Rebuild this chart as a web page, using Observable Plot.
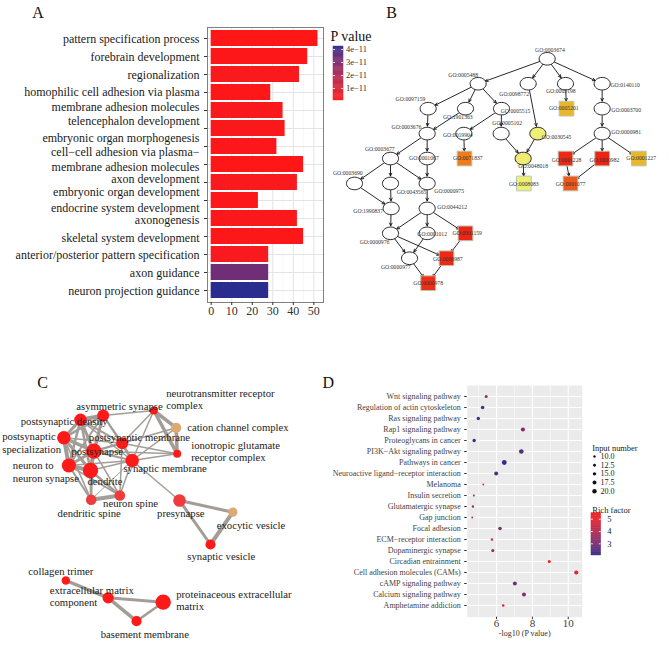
<!DOCTYPE html>
<html><head><meta charset="utf-8">
<script src="https://cdn.jsdelivr.net/npm/d3@7"></script>
<script src="https://cdn.jsdelivr.net/npm/@observablehq/plot@0.6"></script>
<style>
body{margin:0;background:#fff;}
#fig{position:relative;width:669px;height:652px;overflow:hidden;background:#fff;font-family:"Liberation Serif","Times New Roman",serif;}
#fig svg, #fig svg text{font-family:"Liberation Serif","Times New Roman",serif !important;}
.panel{position:absolute;}
.letter{position:absolute;font-size:16px;line-height:1;color:#111;transform:translate(-50%,-50%);}
</style></head><body><div id="fig"></div>
<script>
// ---------------- DATA ----------------
// Panel A: GO biological process enrichment
const aTerms = ["pattern specification process","forebrain development","regionalization",
  "homophilic cell adhesion via plasma\nmembrane adhesion molecules","telencephalon development",
  "embryonic organ morphogenesis","cell\u2212cell adhesion via plasma\u2212\nmembrane adhesion molecules",
  "axon development","embryonic organ development","endocrine system development","axonogenesis",
  "skeletal system development","anterior/posterior pattern specification","axon guidance","neuron projection guidance"];
const aCounts = [52,47,43,29,35,36,32,45,42,23,42,45,28,28,28];
const aPvalues = [8.1e-13,1.1e-12,1.9e-12,1.3e-12,2.2e-12,1.7e-12,1.5e-12,9.2e-13,2.0e-12,1.6e-12,1.8e-12,1.2e-12,2.4e-12,3.3e-11,4.23e-11];
const aTicks = [0,10,20,30,40,50];
const aMinorTicks = [5,15,25,35,45];
const aLegendTicks = [1e-11,2e-11,3e-11,4e-11];

// Panel B: GO DAG (layout x, level)
const bIds = ["GO:0003674","GO:0005488","GO:0098772","GO:0005198","GO:0140110","GO:0097159","GO:1901363","GO:0005515","GO:0005201","GO:0003700",
  "GO:0003676","GO:0019904","GO:0005102","GO:0030545","GO:0000981","GO:0003677","GO:0001067","GO:0071837","GO:0048018","GO:0001228",
  "GO:0000982","GO:0001227","GO:0003690","GO:0043565","GO:0000975","GO:0008083","GO:0001077","GO:1990837","GO:0044212","GO:0000976",
  "GO:0001012","GO:0001159","GO:0000977","GO:0000987","GO:0000978"];
const bX = [650,443,593,705,815,293,405,513,708,815,290,400,512,622,815,180,290,402,578,705,815,925,72,180,290,580,720,182,290,180,290,405,237,348,293];
const bLevel = [0,1,1,1,1,2,2,2,2,2,3,3,3,3,3,4,4,4,4,4,4,4,5,5,5,5,5,6,6,7,7,7,8,8,9];
const bSig = [0,0,0,0,0,0,0,0,1,0,0,0,0,0,0,0,0,1,0,1,1,1,0,0,0,1,1,0,0,0,0,1,0,1,1];
const bScore = [null,null,null,null,null,null,null,null,0.35,null,null,null,null,0,null,null,null,0.6,0.02,0.95,
  0.97,0.35,null,null,null,0,0.75,null,null,null,null,0.96,null,0.94,0.92];
const bEdges = [["GO:0003674","GO:0005488"],["GO:0003674","GO:0098772"],["GO:0003674","GO:0005198"],["GO:0003674","GO:0140110"],
  ["GO:0005488","GO:0097159"],["GO:0005488","GO:1901363"],["GO:0005488","GO:0005515"],
  ["GO:0098772","GO:0030545"],["GO:0005198","GO:0005201"],["GO:0140110","GO:0003700"],
  ["GO:0097159","GO:0003676"],["GO:1901363","GO:0003676"],["GO:0005515","GO:0019904"],["GO:0005515","GO:0005102"],
  ["GO:0003700","GO:0000981"],["GO:0003676","GO:0003677"],["GO:0003676","GO:0001067"],["GO:0019904","GO:0071837"],
  ["GO:0005102","GO:0048018"],["GO:0030545","GO:0048018"],["GO:0000981","GO:0001228"],["GO:0000981","GO:0000982"],["GO:0000981","GO:0001227"],
  ["GO:0003677","GO:0003690"],["GO:0003677","GO:0043565"],["GO:0003677","GO:0000975"],["GO:0001067","GO:0000975"],
  ["GO:0048018","GO:0008083"],["GO:0001228","GO:0001077"],["GO:0000982","GO:0001077"],
  ["GO:0003690","GO:1990837"],["GO:0043565","GO:1990837"],["GO:0000975","GO:0044212"],
  ["GO:1990837","GO:0000976"],["GO:0044212","GO:0000976"],["GO:0044212","GO:0001012"],["GO:0044212","GO:0001159"],
  ["GO:0000976","GO:0000977"],["GO:0000976","GO:0000987"],["GO:0001012","GO:0000977"],["GO:0001159","GO:0000987"],
  ["GO:0000977","GO:0000978"],["GO:0000987","GO:0000978"]];

// Panel C: cellular component network (layout x, y)
const cIds = ["AS","PSD","PSS","PS","PSM","SM","NNS","D","DS","NS","NRC","CCC","IGRC","PRE","EV","SV","CT","ECM","PEM","BM"];
const cNames = ["asymmetric synapse","postsynaptic density","postsynaptic\nspecialization","postsynapse","postsynaptic membrane",
  "synaptic membrane","neuron to\nneuron synapse","dendrite","dendritic spine","neuron spine","neurotransmitter receptor\ncomplex",
  "cation channel complex","ionotropic glutamate\nreceptor complex","presynapse","exocytic vesicle","synaptic vesicle",
  "collagen trimer","extracellular matrix\ncomponent","proteinaceous extracellular\nmatrix","basement membrane"];
const cX = [308,240,190,280,365,395,205,270,272,358,460,527,530,537,697,630,196,323,488,408];
const cY = [255,268,322,362,338,390,405,420,508,495,240,292,370,510,545,642,750,802,815,872];
const cGenes = [18,20,23,30,18,23,25,30,14,14,8,13,8,20,11,13,9,16,30,13];
const cLevel = ["high","high","high","high","high","high","high","high","mid","mid","high","low","high","mid","low","high","high","high","high","high"];
const cEdges = [["PSD","AS",4],["PSD","PSS",3],["PSD","PS",3],["PSD","NNS",2.5],["PSD","D",2.5],["PSD","PSM",2],["PSD","SM",1.5],
  ["AS","PSS",2.5],["AS","PS",3],["AS","NNS",2],["AS","D",2],["AS","PSM",2],["AS","SM",1.5],
  ["PSS","PS",3.5],["PSS","NNS",4],["PSS","D",3],["PSS","PSM",1.5],["PSS","DS",1.5],
  ["PS","NNS",3],["PS","D",4],["PS","PSM",2.5],["PS","SM",2],["PS","DS",1.5],["PS","NS",1.5],
  ["NNS","D",4],["NNS","DS",2],["NNS","NS",1.5],["NNS","SM",1.5],
  ["D","DS",2.5],["D","NS",2.5],["D","SM",1.5],["DS","NS",4],
  ["PSM","SM",2.5],["PSM","NS",1.5],["SM","NS",1.5],["SM","DS",1],
  ["NRC","AS",1.5],["NRC","PSM",1.5],["NRC","SM",1.5],["NRC","CCC",3.5],["NRC","IGRC",3.5],["CCC","IGRC",3.5],
  ["CCC","PSM",1.5],["CCC","SM",1.5],["IGRC","PSM",1.5],["IGRC","SM",1.5],["IGRC","PS",1.5],
  ["SM","PRE",1.5],["PRE","EV",3],["PRE","SV",3],["EV","SV",4],
  ["CT","ECM",3.5],["ECM","PEM",3],["ECM","BM",3.5],["PEM","BM",2.5]];

// Panel D: KEGG pathway bubble chart
const dTerms = ["Wnt signaling pathway","Regulation of actin cytoskeleton","Ras signaling pathway","Rap1 signaling pathway",
  "Proteoglycans in cancer","PI3K\u2212Akt signaling pathway","Pathways in cancer","Neuroactive ligand\u2212receptor interaction",
  "Melanoma","Insulin secretion","Glutamatergic synapse","Gap junction","Focal adhesion","ECM\u2212receptor interaction",
  "Dopaminergic synapse","Circadian entrainment","Cell adhesion molecules (CAMs)","cAMP signaling pathway",
  "Calcium signaling pathway","Amphetamine addiction"];
const dLogP = [5.42,5.22,4.98,7.47,4.75,7.38,6.43,5.98,5.26,4.73,4.68,4.64,6.19,5.74,5.79,8.94,10.45,7.02,7.53,6.37];
const dInput = [13,16,15,19,15,21,22,18,7,8,10,7,16,10,14,13,19,18,18,11];
const dRich = [3.3,2.4,2.3,3.2,2.2,2.4,2.1,2.5,4.6,4.0,3.6,3.9,3.0,4.7,3.4,5.3,5.0,3.0,3.2,5.0];
const dXTicks = [6,8,10];
const dXMinor = [5,7,9];
const dSizeBreaks = [10,12.5,15,17.5,20];
const dRichTicks = [3,4,5];

// ---------------- HELPERS ----------------
const fig = document.getElementById("fig");
function place(node, left, top){ const d=document.createElement("div"); d.className="panel"; d.style.left=left+"px"; d.style.top=top+"px"; d.appendChild(node); fig.appendChild(d); }
function letter(t,x,y){ const d=document.createElement("div"); d.className="letter"; d.textContent=t; d.style.left=x+"px"; d.style.top=y+"px"; fig.appendChild(d); }
const css = (fs) => `background:transparent;overflow:visible;max-width:none;font-family:'Liberation Serif','Times New Roman',serif;font-size:${fs}px;`;
function gradientStops(lo, hi, n){ return d3.range(n).map(i=>({v1: lo+(hi-lo)*i/n, v2: lo+(hi-lo)*(i+1)/n})); }

// ---------------- PANEL A ----------------
const aRows = aTerms.map((term,i)=>({term, count:aCounts[i], p:aPvalues[i]}));
const aExt = d3.extent(aPvalues);
const aColor = {type:"linear", domain:aExt, range:["#ff1616","#2b2d8e"], interpolate:"lab"};
const aShift = [0,0,0,6.5,10,8.5,12,14,8.5,6.5,1,1,0,0,0];
const plotA = Plot.plot({
  width:330, height:325, marginLeft:207, marginRight:7, marginTop:27, marginBottom:23,
  style:css(12),
  x:{domain:[-1.8,54.7]},
  y:{domain:aTerms, paddingInner:0.1, paddingOuter:0.15},
  color:aColor,
  marks:[
    Plot.gridX({ticks:aMinorTicks, stroke:"#f2f2f2", strokeOpacity:1, strokeWidth:0.6}),
    Plot.gridX({ticks:aTicks, stroke:"#e4e4e4", strokeOpacity:1, strokeWidth:1}),
    Plot.gridY({stroke:"#e4e4e4", strokeOpacity:1, strokeWidth:1}),
    Plot.barX(aRows,{x:"count", y:"term", fill:"p"}),
    Plot.frame({stroke:"#808080"}),
    Plot.axisX({ticks:aTicks, tickSize:3, tickPadding:1, fontSize:12, fill:"#333", stroke:"#333", label:null}),
    Plot.axisY({tickSize:3, tickFormat:()=>"", stroke:"#333", label:null}),
    ...aTerms.map((t,i)=>Plot.text([t],{y:d=>d, text:d=>d, frameAnchor:"left", dx:-8, dy:aShift[i], textAnchor:"end", lineHeight:1.22, fontSize:12, fill:"#1a1a1a"}))
  ]
});
place(plotA, 0, 0);

const plotALeg = Plot.plot({
  width:70, height:86, marginTop:26, marginBottom:6, marginLeft:7, marginRight:53,
  style:css(8.5), x:{domain:[0,1], axis:null}, y:{domain:aExt, axis:null}, color:aColor,
  marks:[
    Plot.rect(gradientStops(aExt[0],aExt[1],60),{x1:0,x2:1,y1:"v1",y2:"v2",fill:d=>(d.v1+d.v2)/2,stroke:d=>(d.v1+d.v2)/2,strokeWidth:0.4}),
    Plot.ruleY(aLegendTicks,{x1:0,x2:0.2,stroke:"white",strokeWidth:0.8}),
    Plot.ruleY(aLegendTicks,{x1:0.8,x2:1,stroke:"white",strokeWidth:0.8}),
    Plot.text(aLegendTicks,{x:1,y:d=>d,text:d=>d3.format(".0e")(d).replace("-","\u2212"),dx:2.5,textAnchor:"start",fontSize:8.5,fill:"#333"}),
    Plot.text(["P value"],{frameAnchor:"top-left",dx:-3,dy:-15,textAnchor:"start",fontSize:14,fill:"#111"})
  ]
});
place(plotALeg, 326, 20);

// ---------------- PANEL B ----------------
const bNodes = bIds.map((id,i)=>({id, x:bX[i], level:bLevel[i], sig:bSig[i]===1, score:bScore[i]}));
const bById = new Map(bNodes.map(n=>[n.id,n]));
const bLinks = bEdges.map(([s,t])=>({s:bById.get(s), t:bById.get(t)}));
const bLab = {"GO:0003674":[2.7,-8.3],"GO:0005488":[-15,-8.7],"GO:0098772":[-14,10],"GO:0005198":[-4.7,7.3],"GO:0140110":[23,1.7],
  "GO:0097159":[-17.7,-9],"GO:1901363":[-7.7,9],"GO:0005515":[14,3],"GO:0005201":[-2.7,0],"GO:0003700":[24,1.3],
  "GO:0003676":[-20.7,-6],"GO:0019904":[-6,2],"GO:0005102":[6,-10],"GO:0030545":[18.7,3.3],"GO:0000981":[24,-1.3],
  "GO:0003677":[-10.7,-9],"GO:0001067":[-3.3,-0.7],"GO:0071837":[3.3,0],"GO:0048018":[10,8],"GO:0001228":[1,1.7],
  "GO:0000982":[2.3,1.7],"GO:0001227":[2.3,0],"GO:0003690":[-6.7,-10],"GO:0043565":[21,8.7],"GO:0000975":[22,7.3],
  "GO:0008083":[0,1],"GO:0001077":[0,1],"GO:1990837":[-23,2.7],"GO:0044212":[25,-1.7],"GO:0000976":[-16,9.3],
  "GO:0001012":[5,0.7],"GO:0001159":[1.7,0],"GO:0000977":[-13.7,9.3],"GO:0000987":[1.3,1],"GO:0000978":[0,0]};
const ellipse = {draw(ctx, size){ const r=Math.sqrt(size/Math.PI), rx=r*1.15, ry=r*0.9, k=0.5523;
  ctx.moveTo(rx,0); ctx.bezierCurveTo(rx,ry*k,rx*k,ry,0,ry); ctx.bezierCurveTo(-rx*k,ry,-rx,ry*k,-rx,0);
  ctx.bezierCurveTo(-rx,-ry*k,-rx*k,-ry,0,-ry); ctx.bezierCurveTo(rx*k,-ry,rx,-ry*k,rx,0); ctx.closePath(); }};
const plotB = Plot.plot({
  width:339, height:330, margin:0, marginTop:58.3, marginBottom:47.3,
  style:css(6),
  x:{domain:[0,1017], axis:null}, y:{domain:[0,9], reverse:true, axis:null},
  color:{type:"linear", domain:[0,0.35,0.6,0.8,1], range:["#eef075","#e9b62c","#ef7b1c","#ee4b1f","#ee1c12"]},
  marks:[
    Plot.arrow(bLinks,{x1:d=>d.s.x,y1:d=>d.s.level,x2:d=>d.t.x,y2:d=>d.t.level,insetStart:7,insetEnd:7.5,headLength:5,headAngle:50,stroke:"#111",strokeWidth:0.9}),
    Plot.dot(bNodes.filter(n=>!n.sig && n.score==null),{x:"x",y:"level",r:7,symbol:ellipse,fill:"white",stroke:"#111",strokeWidth:0.9}),
    Plot.dot(bNodes.filter(n=>!n.sig && n.score!=null),{x:"x",y:"level",r:7,symbol:ellipse,fill:"score",stroke:"#111",strokeWidth:0.9}),
    Plot.dot(bNodes.filter(n=>n.sig),{x:"x",y:"level",r:8.3,symbol:"square",fill:"score",stroke:"#b9c7b3",strokeWidth:1}),
    ...bNodes.map(n=>Plot.text([n],{x:"x",y:"level",text:"id",dx:bLab[n.id][0],dy:bLab[n.id][1],fontSize:5.7,fill:"#333"}))
  ]
});
place(plotB, 330, 0);

// ---------------- PANEL C ----------------
const cNodes = cIds.map((id,i)=>({id, name:cNames[i], x:cX[i], y:cY[i], genes:cGenes[i], level:cLevel[i]}));
const cById = new Map(cNodes.map(n=>[n.id,n]));
const cLinks = cEdges.map(([s,t,w])=>({s:cById.get(s), t:cById.get(t), w}));
const cLab = {AS:[16.3,-10,"middle"],PSD:[-16.3,1.4,"middle"],PSS:[-61.6,4.9,"start"],PS:[3.4,0,"middle"],PSM:[17.3,-6,"middle"],
  SM:[33,7.7,"middle"],NNS:[-56,6.2,"start"],D:[14.5,10,"middle"],DS:[-2,13.4,"middle"],NS:[10.7,7.7,"middle"],
  NRC:[12.4,-11.3,"start"],CCC:[11,-0.6,"start"],IGRC:[14,-2.8,"start"],PRE:[1.3,12.7,"middle"],EV:[18.2,12.6,"middle"],
  SV:[10.8,11.7,"middle"],CT:[-5,-10,"middle"],ECM:[-58.4,-2,"start"],PEM:[13,-2.2,"start"],BM:[8.3,13.3,"middle"]};
const plotC = Plot.plot({
  width:340, height:322, margin:0,
  style:css(10.7),
  x:{domain:[0,1020], axis:null}, y:{domain:[0,966], reverse:true, axis:null},
  r:{type:"sqrt", domain:[0,30], range:[0,7.7]},
  color:{domain:["high","mid","low"], range:["#ff1a1a","#ef3b3b","#dcaa74"]},
  marks:[
    Plot.link(cLinks,{x1:d=>d.s.x,y1:d=>d.s.y,x2:d=>d.t.x,y2:d=>d.t.y,strokeWidth:d=>d.w,stroke:"#a39d98"}),
    Plot.dot(cNodes,{x:"x",y:"y",r:"genes",fill:"level"}),
    ...cNodes.map(n=>Plot.text([n],{x:"x",y:"y",text:"name",dx:cLab[n.id][0],dy:cLab[n.id][1],textAnchor:cLab[n.id][2],lineHeight:1.17,fontSize:10.7,fill:"#222"}))
  ]
});
place(plotC, 0, 330);

// ---------------- PANEL D ----------------
const dRows = dTerms.map((term,i)=>({term, logp:dLogP[i], input:dInput[i], rich:dRich[i]}));
const dColor = {type:"linear", domain:[2.05,5.49], range:["#2c2c8c","#ff1a1a"], interpolate:"lab"};
const dR = {type:"linear", domain:[10,20], range:[1.2,2.2]};
const plotD = Plot.plot({
  width:359, height:282, marginLeft:156.7, marginRight:87.3, marginTop:15, marginBottom:35.3,
  style:css(8),
  x:{domain:[4.36,10.78]}, y:{type:"point", domain:dTerms, padding:0.6},
  color:dColor, r:dR,
  marks:[
    Plot.frame({fill:"#ebebeb"}),
    Plot.gridX({ticks:dXMinor, stroke:"white", strokeOpacity:1, strokeWidth:0.5}),
    Plot.gridX({ticks:dXTicks, stroke:"white", strokeOpacity:1, strokeWidth:1.1}),
    Plot.gridY({stroke:"white", strokeOpacity:1, strokeWidth:1.1}),
    Plot.dot(dRows,{x:"logp", y:"term", r:"input", fill:"rich"}),
    Plot.axisY({tickSize:2.5, tickPadding:4, fontSize:8, fill:"#444", stroke:"#333", label:null}),
    Plot.axisX({ticks:dXTicks, tickFormat:d=>String(d), tickSize:2.5, tickPadding:-0.5, fontSize:11, fill:"#444", stroke:"#333", label:null}),
    Plot.text(["-log10 (P value)"],{frameAnchor:"bottom", dy:19, fontSize:8, fill:"#333"})
  ]
});
place(plotD, 310, 370);

const plotDSize = Plot.plot({
  width:84, height:56, margin:0, style:css(8),
  x:{domain:[0,1], axis:null}, y:{domain:[10,20], range:[16,50.7], axis:null}, r:dR,
  marks:[
    Plot.dot(dSizeBreaks,{y:d=>d, r:d=>d, frameAnchor:"left", dx:9, fill:"#111"}),
    Plot.text(dSizeBreaks,{y:d=>d, text:d=>d.toFixed(1), frameAnchor:"left", dx:15, textAnchor:"start", fontSize:8.1, fill:"#222"}),
    Plot.text(["Input number"],{frameAnchor:"top-left", dx:6.7, dy:5, textAnchor:"start", fontSize:8.4, fill:"#222"})
  ]
});
place(plotDSize, 585, 440);

const plotDColor = Plot.plot({
  width:84, height:66, margin:0, style:css(8),
  x:{domain:[0,1], range:[6,15.7], axis:null}, y:{domain:dColor.domain, range:[57,14.7], axis:null}, color:dColor,
  marks:[
    Plot.rect(gradientStops(dColor.domain[0],dColor.domain[1],60),{x1:0,x2:1,y1:"v1",y2:"v2",fill:d=>(d.v1+d.v2)/2,stroke:d=>(d.v1+d.v2)/2,strokeWidth:0.4}),
    Plot.ruleY(dRichTicks,{x1:0,x2:0.2,stroke:"white",strokeWidth:0.8}),
    Plot.ruleY(dRichTicks,{x1:0.8,x2:1,stroke:"white",strokeWidth:0.8}),
    Plot.text(dRichTicks,{x:1, y:d=>d, text:d=>String(d), dx:6, textAnchor:"start", fontSize:8.5, fill:"#222"}),
    Plot.text(["Rich factor"],{frameAnchor:"top-left", dx:6.7, dy:8.5, textAnchor:"start", fontSize:8.6, fill:"#222"})
  ]
});
place(plotDColor, 585, 498);

// ---------------- PANEL LETTERS ----------------
letter("A",38,13); letter("B",391.7,13); letter("C",42.7,382.7); letter("D",328.3,382.7);
</script></body></html>
